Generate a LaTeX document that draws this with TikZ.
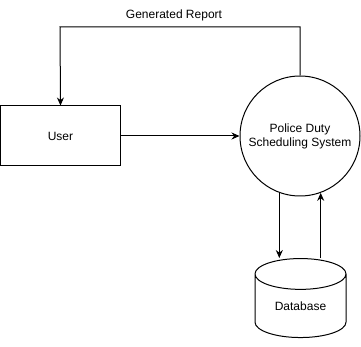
\documentclass[tikz,border=0pt]{standalone}
\usepackage{fontspec}
\setmainfont{Liberation Sans}
\usetikzlibrary{arrows.meta,shapes.geometric}

\tikzset{
  flow/.style={draw=black, line width=1pt, -{Stealth[length=8pt,width=7pt]}},
}

\begin{document}
\begin{tikzpicture}[%
      x=1pt, y=-1pt,
      font=\fontsize{12}{14}\selectfont,
      every node/.style={line width=1pt, inner sep=0pt},
      ]
      \useasboundingbox (0,0) rectangle (361,347);

      % entity, process and store
      \node[draw, minimum width=120pt, minimum height=60pt] (user) at (60.5,136) {User};
      \node[draw, circle, minimum size=120pt, align=center] (sys) at (300,136)
            {Police Duty\\Scheduling System};
      \node[draw, cylinder, shape border rotate=90, aspect=0.6,
            minimum width=91pt, minimum height=79pt] (db) at (300.5,306) {Database};

      % report back to the user
      \coordinate (top) at (60,27);
      \draw[flow] (sys.north) |- (top) -- (user.north);
      \node (rep) at (174,15) {Generated Report};

      \draw[flow] (user.east) -- (sys.west);

      % read / write the store
      \draw[flow] (sys.250) -- (sys.250 |- db.top);
      \draw[flow] (sys.290 |- db.top) -- (sys.290);
\end{tikzpicture}
\end{document}
